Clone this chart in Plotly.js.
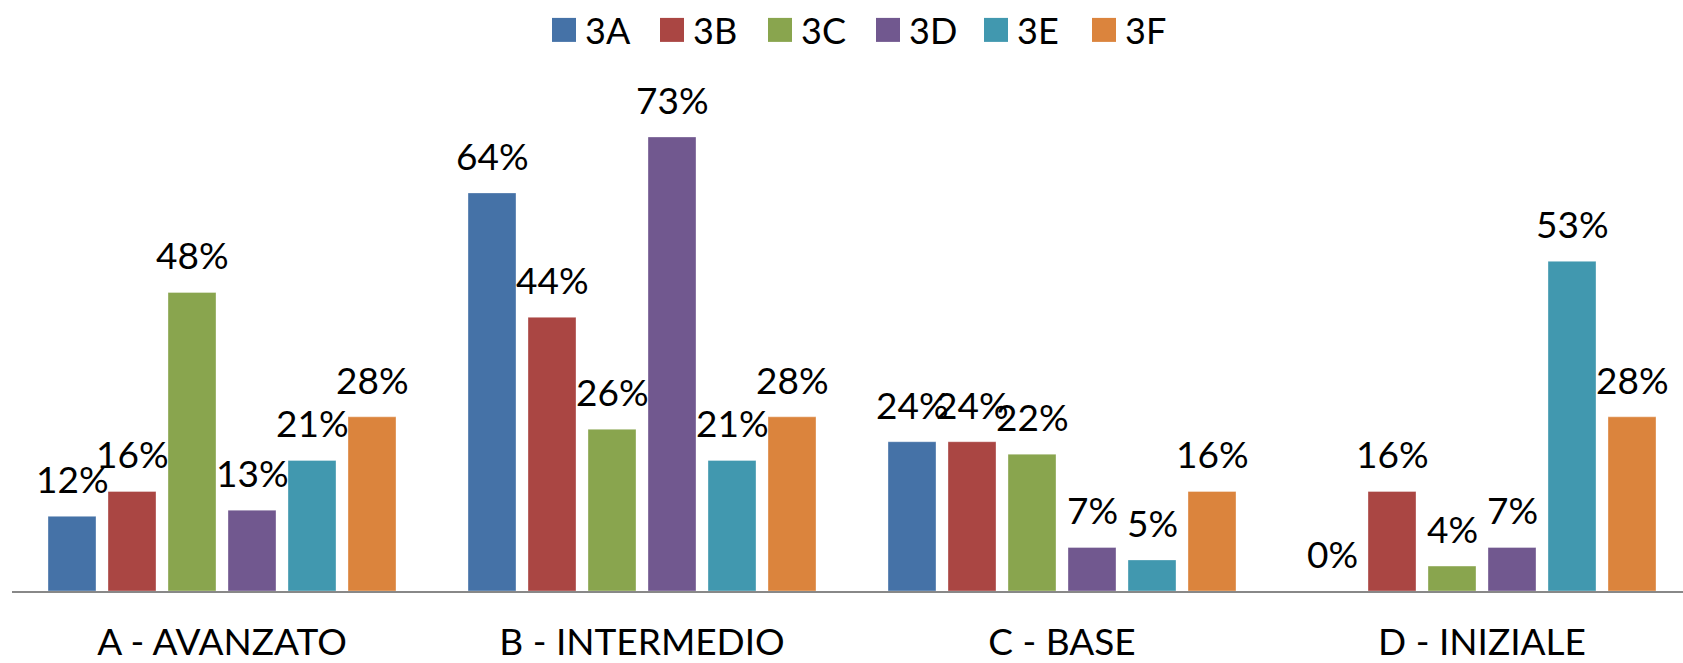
<!DOCTYPE html>
<html><head><meta charset="utf-8">
<script src="https://cdn.plot.ly/plotly-3.0.1.min.js"></script>
<style>html,body{margin:0;padding:0;background:#fff}#chart{width:1683px;height:663px}</style>
</head><body><div id="chart"></div>
<script>
// ---- data ----
const categories = ['A - AVANZATO', 'B - INTERMEDIO', 'C - BASE', 'D - INIZIALE'];
const seriesNames = ['3A', '3B', '3C', '3D', '3E', '3F'];
const v3A = [12, 64, 24, 0];
const v3B = [16, 44, 24, 16];
const v3C = [48, 26, 22, 4];
const v3D = [13, 73, 7, 7];
const v3E = [21, 21, 5, 53];
const v3F = [28, 28, 16, 28];
const seriesValues = [v3A, v3B, v3C, v3D, v3E, v3F];
const colors = ['#4572A7', '#AA4643', '#89A54E', '#71588F', '#4198AF', '#DB843D'];

// ---- layout constants ----
const W = 1683, H = 663;
const M = {l: 12, r: 0, t: 60, b: 72};
const pxPerCat = 420;
const pxPerUnit = 6.22;
const plotW = W - M.l - M.r, plotH = H - M.t - M.b;
const xRange = [-0.5, -0.5 + plotW / pxPerCat];
const yRange = [0, plotH / pxPerUnit];
const bargap = 1 / 7, bargroupgap = 0.2;
const slotPx = pxPerCat * (1 - bargap) / seriesNames.length;
const FONT = 'Lato, Carlito, Calibri, sans-serif';
const FS = 37;

const traces = [];
const annotations = [];
seriesNames.forEach((name, i) => {
  traces.push({
    type: 'bar', name: name, x: categories, y: seriesValues[i],
    marker: {color: colors[i], line: {width: 1, color: 'rgba(255,255,255,0.35)'}},
    showlegend: true, hoverinfo: 'skip'
  });
  seriesValues[i].forEach((v, j) => {
    annotations.push({
      x: categories[j], y: v, xref: 'x', yref: 'y',
      text: v + '%', showarrow: false, xanchor: 'center', yanchor: 'bottom',
      xshift: (i - (seriesNames.length - 1) / 2) * slotPx, yshift: 13,
      font: {family: FONT, size: FS, color: '#000'}
    });
  });
});

const layout = {
  width: W, height: H, margin: M,
  paper_bgcolor: '#fff', plot_bgcolor: '#fff',
  barmode: 'group', bargap: bargap, bargroupgap: bargroupgap,
  font: {family: FONT, color: '#000'},
  xaxis: {
    type: 'category', range: xRange, showline: true, linecolor: '#888888', linewidth: 1.5,
    ticks: '', showgrid: false, zeroline: false, fixedrange: true, ticklabelstandoff: 18,
    tickfont: {family: FONT, size: FS, color: '#000'}
  },
  yaxis: {range: yRange, visible: false, showgrid: false, zeroline: false, fixedrange: true},
  showlegend: true,
  legend: {
    orientation: 'h', xref: 'container', yref: 'container',
    x: 869 / W, xanchor: 'center', y: 1 - 30 / H, yanchor: 'middle',
    font: {family: FONT, size: FS - 1, color: '#000'},
    entrywidth: 63, entrywidthmode: 'pixels', itemclick: false, itemdoubleclick: false,
    bgcolor: 'rgba(0,0,0,0)'
  },
  annotations: annotations
};

function enlargeSwatches(gd) {
  // make the legend colour swatches 24x24 squares like the reference
  gd.querySelectorAll('.legend .legendpoints path').forEach(p => {
    p.setAttribute('d', 'M11,12H-13V-12H11Z');
    p.style.strokeWidth = '0px';
  });
}

Plotly.newPlot('chart', traces, layout, {displayModeBar: false, staticPlot: true}).then(gd => {
  enlargeSwatches(gd);
  gd.on('plotly_afterplot', () => enlargeSwatches(gd));
});
</script></body></html>
